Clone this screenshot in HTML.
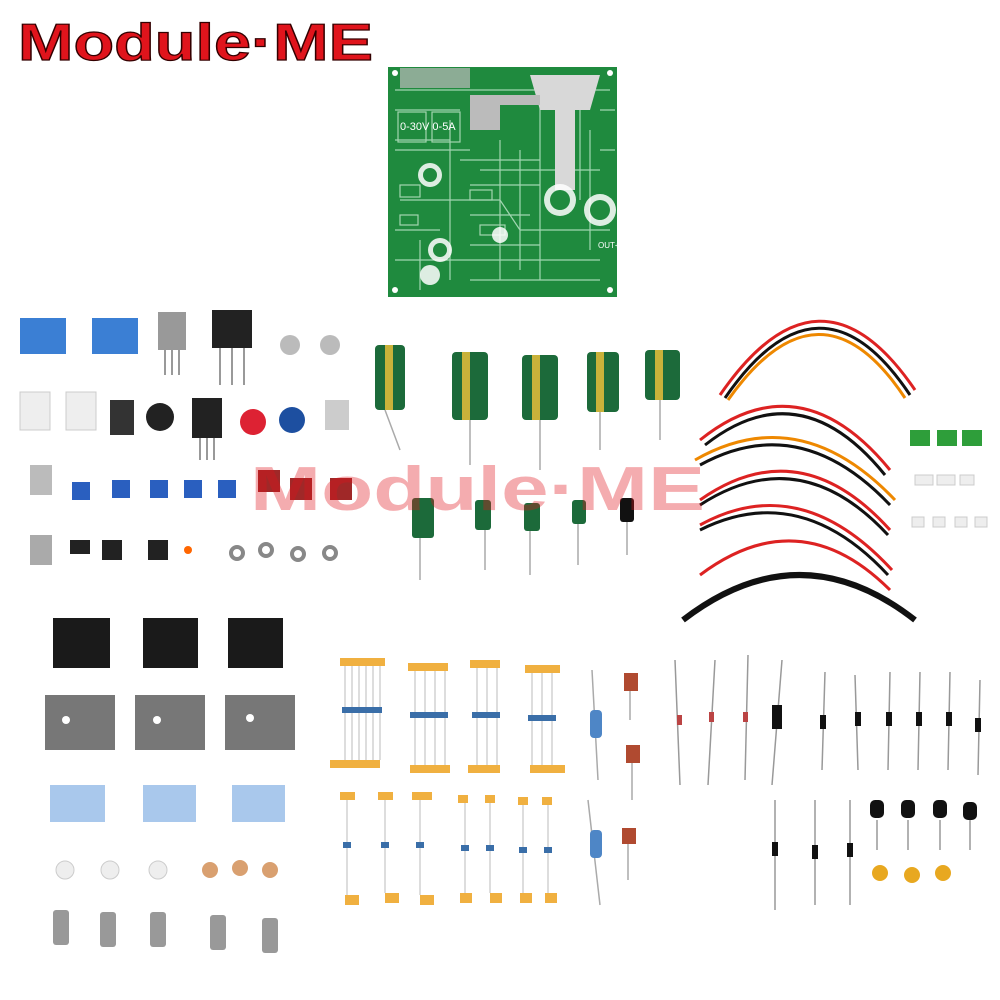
<!DOCTYPE html>
<html><head><meta charset="utf-8"><style>html,body{margin:0;padding:0;background:#fff}svg{display:block}</style></head>
<body>
<svg width="1000" height="1000" viewBox="0 0 1000 1000" xmlns="http://www.w3.org/2000/svg">
<rect width="1000" height="1000" fill="#fff"/>
<!-- logo -->
<text x="18" y="60" font-family="Liberation Sans, sans-serif" font-weight="bold" font-size="52" fill="#e0141c" stroke="#300" stroke-width="1.2" textLength="355" lengthAdjust="spacingAndGlyphs">Module·ME</text>
<!-- PCB -->
<rect x="388" y="67" width="229" height="230" fill="#1f8a3e"/>
<g stroke="#b9e3c5" stroke-width="1.2" fill="none" opacity="0.85">
<path d="M395 90 H610 M395 150 H470 M400 200 L500 200 L520 230 H610 M420 240 V290 M450 120 V280 M480 170 H600 M395 260 H600 M540 100 V280 M580 80 V200 M395 110 H460 M395 140 H450 M460 160 H540 M470 185 H540 M470 215 H530 M395 230 H440 M470 245 H540 M470 280 H600 M500 140 V280 M520 150 V270 M600 110 H615 M600 150 H615 M590 130 V250"/>
<rect x="398" y="112" width="28" height="30"/><rect x="432" y="112" width="28" height="30"/>
<rect x="400" y="185" width="20" height="12"/><rect x="470" y="190" width="22" height="10"/><rect x="480" y="225" width="25" height="10"/><rect x="400" y="215" width="18" height="10"/>
</g>
<path d="M530 75 L600 75 L590 110 L575 110 L575 190 L555 190 L555 110 L540 110 Z" fill="#d8d8d8"/>
<path d="M470 95 L540 95 L540 105 L500 105 L500 130 L470 130 Z" fill="#bbb"/>
<rect x="400" y="68" width="70" height="20" fill="#bbb" opacity="0.7"/>
<g fill="#fff" opacity="0.85">
<circle cx="430" cy="175" r="12"/><circle cx="560" cy="200" r="16"/><circle cx="600" cy="210" r="16"/><circle cx="440" cy="250" r="12"/><circle cx="430" cy="275" r="10"/><circle cx="500" cy="235" r="8"/>
</g>
<g fill="#1f8a3e"><circle cx="430" cy="175" r="7"/><circle cx="560" cy="200" r="10"/><circle cx="600" cy="210" r="10"/><circle cx="440" cy="250" r="7"/></g>
<g fill="#fff"><circle cx="395" cy="73" r="3"/><circle cx="610" cy="73" r="3"/><circle cx="395" cy="290" r="3"/><circle cx="610" cy="290" r="3"/></g>
<text x="400" y="130" font-family="Liberation Sans,sans-serif" font-size="11" fill="#fff">0-30V  0-5A</text>
<text x="598" y="248" font-family="Liberation Sans,sans-serif" font-size="8" fill="#fff">OUT+</text>
<!-- relays -->
<rect x="20" y="318" width="46" height="36" fill="#3b7fd4"/><rect x="92" y="318" width="46" height="36" fill="#3b7fd4"/>
<g fill="#222"><rect x="158" y="312" width="28" height="38" fill="#999"/><rect x="212" y="310" width="40" height="38"/><rect x="192" y="398" width="30" height="40"/></g>
<g stroke="#999" stroke-width="2"><path d="M165 350 V375 M172 350 V375 M179 350 V375 M220 348 V385 M232 348 V385 M244 348 V385 M200 438 V460 M207 438 V460 M214 438 V460"/></g>
<rect x="20" y="392" width="30" height="38" fill="#eee" stroke="#ccc"/><rect x="66" y="392" width="30" height="38" fill="#eee" stroke="#ccc"/>
<rect x="110" y="400" width="24" height="35" fill="#333"/><rect x="325" y="400" width="24" height="30" fill="#ccc"/>
<circle cx="160" cy="417" r="14" fill="#222"/><circle cx="253" cy="422" r="13" fill="#d23"/><circle cx="292" cy="420" r="13" fill="#1d4fa0"/>
<circle cx="290" cy="345" r="10" fill="#bbb"/><circle cx="330" cy="345" r="10" fill="#bbb"/>
<rect x="30" y="465" width="22" height="30" fill="#bbb"/>
<g fill="#2a5fbf"><rect x="72" y="482" width="18" height="18"/><rect x="112" y="480" width="18" height="18"/><rect x="150" y="480" width="18" height="18"/><rect x="184" y="480" width="18" height="18"/><rect x="218" y="480" width="18" height="18"/></g>
<g fill="#a02828"><rect x="258" y="470" width="22" height="22"/><rect x="290" y="478" width="22" height="22"/><rect x="330" y="478" width="22" height="22"/></g>
<rect x="30" y="535" width="22" height="30" fill="#aaa"/><rect x="70" y="540" width="20" height="14" fill="#222"/><rect x="102" y="540" width="20" height="20" fill="#222"/><rect x="148" y="540" width="20" height="20" fill="#222"/>
<circle cx="188" cy="550" r="4" fill="#f60"/>
<g fill="none" stroke="#888" stroke-width="4"><circle cx="237" cy="553" r="6"/><circle cx="266" cy="550" r="6"/><circle cx="298" cy="554" r="6"/><circle cx="330" cy="553" r="6"/></g>
<g fill="#1c6a3a"><rect x="375" y="345" width="30" height="65" rx="4"/><rect x="452" y="352" width="36" height="68" rx="4"/><rect x="522" y="355" width="36" height="65" rx="4"/><rect x="587" y="352" width="32" height="60" rx="4"/><rect x="645" y="350" width="35" height="50" rx="4"/>
<rect x="412" y="498" width="22" height="40" rx="3"/><rect x="475" y="500" width="16" height="30" rx="3"/><rect x="524" y="503" width="16" height="28" rx="3"/><rect x="572" y="500" width="14" height="24" rx="3"/><rect x="620" y="498" width="14" height="24" rx="3" fill="#111"/></g>
<g fill="#c9b23a"><rect x="385" y="345" width="8" height="65"/><rect x="462" y="352" width="8" height="68"/><rect x="532" y="355" width="8" height="65"/><rect x="596" y="352" width="8" height="60"/><rect x="655" y="350" width="8" height="50"/></g>
<g stroke="#aaa" stroke-width="1.5"><path d="M385 410 L400 450 M470 420 V465 M540 420 V470 M600 412 V450 M660 400 V440 M420 538 V580 M485 530 V570 M530 531 V575 M578 524 V565 M627 522 V555"/></g>
<g fill="none" stroke-width="3">
<path d="M720 395 Q820 250 915 390" stroke="#d22"/><path d="M725 398 Q820 260 910 395" stroke="#111"/><path d="M728 400 Q820 270 905 398" stroke="#e80"/>
<path d="M700 440 Q800 360 890 470" stroke="#d22"/><path d="M705 445 Q800 370 885 475" stroke="#111"/>
<path d="M695 460 Q800 400 895 500" stroke="#e80"/><path d="M700 465 Q800 410 890 505" stroke="#111"/>
<path d="M700 500 Q800 430 890 530" stroke="#d22"/><path d="M700 505 Q800 440 888 535" stroke="#111"/>
<path d="M700 525 Q800 470 892 570" stroke="#d22"/><path d="M700 530 Q800 480 888 575" stroke="#111"/>
<path d="M700 575 Q800 500 890 590" stroke="#d22"/>
<path d="M683 620 Q800 530 915 620" stroke="#111" stroke-width="6"/>
</g>
<g fill="#2e9e3a"><rect x="910" y="430" width="20" height="16"/><rect x="937" y="430" width="20" height="16"/><rect x="962" y="430" width="20" height="16"/></g>
<g fill="#eee" stroke="#ccc"><rect x="915" y="475" width="18" height="10"/><rect x="937" y="475" width="18" height="10"/><rect x="960" y="475" width="14" height="10"/><rect x="912" y="517" width="12" height="10"/><rect x="933" y="517" width="12" height="10"/><rect x="955" y="517" width="12" height="10"/><rect x="975" y="517" width="12" height="10"/></g>
<g fill="#1a1a1a"><rect x="53" y="618" width="57" height="50"/><rect x="143" y="618" width="55" height="50"/><rect x="228" y="618" width="55" height="50"/></g>
<g fill="#777"><rect x="45" y="695" width="70" height="55"/><rect x="135" y="695" width="70" height="55"/><rect x="225" y="695" width="70" height="55"/></g>
<g fill="#fff"><circle cx="66" cy="720" r="4"/><circle cx="157" cy="720" r="4"/><circle cx="250" cy="718" r="4"/></g>
<g fill="#a9c8ec"><rect x="50" y="785" width="55" height="37"/><rect x="143" y="785" width="53" height="37"/><rect x="232" y="785" width="53" height="37"/></g>
<g fill="#eee" stroke="#ccc"><circle cx="65" cy="870" r="9"/><circle cx="110" cy="870" r="9"/><circle cx="158" cy="870" r="9"/></g>
<g fill="#d9a070"><circle cx="210" cy="870" r="8"/><circle cx="240" cy="868" r="8"/><circle cx="270" cy="870" r="8"/></g>
<g fill="#999"><rect x="53" y="910" width="16" height="35" rx="3"/><rect x="100" y="912" width="16" height="35" rx="3"/><rect x="150" y="912" width="16" height="35" rx="3"/><rect x="210" y="915" width="16" height="35" rx="3"/><rect x="262" y="918" width="16" height="35" rx="3"/></g>
<g fill="#f0b040">
<rect x="340" y="658" width="45" height="8"/><rect x="330" y="760" width="50" height="8"/>
<rect x="408" y="663" width="40" height="8"/><rect x="410" y="765" width="40" height="8"/>
<rect x="470" y="660" width="30" height="8"/><rect x="468" y="765" width="32" height="8"/>
<rect x="525" y="665" width="35" height="8"/><rect x="530" y="765" width="35" height="8"/>
<rect x="340" y="792" width="15" height="8"/><rect x="378" y="792" width="15" height="8"/><rect x="412" y="792" width="20" height="8"/><rect x="458" y="795" width="10" height="8"/><rect x="485" y="795" width="10" height="8"/><rect x="518" y="797" width="10" height="8"/><rect x="542" y="797" width="10" height="8"/>
<rect x="345" y="895" width="14" height="10"/><rect x="385" y="893" width="14" height="10"/><rect x="420" y="895" width="14" height="10"/><rect x="460" y="893" width="12" height="10"/><rect x="490" y="893" width="12" height="10"/><rect x="520" y="893" width="12" height="10"/><rect x="545" y="893" width="12" height="10"/>
</g>
<g stroke="#bbb" stroke-width="1"><path d="M345 666 V760 M352 666 V760 M359 666 V760 M366 666 V760 M373 666 V760 M380 666 V760 M415 671 V765 M425 671 V765 M435 671 V765 M445 671 V765 M477 668 V765 M487 668 V765 M497 668 V765 M532 673 V765 M542 673 V765 M552 673 V765 M347 800 V895 M385 800 V893 M420 800 V895 M465 803 V893 M490 803 V893 M523 805 V893 M548 805 V893"/></g>
<g fill="#3a6ea8"><rect x="342" y="707" width="40" height="6"/><rect x="410" y="712" width="38" height="6"/><rect x="472" y="712" width="28" height="6"/><rect x="528" y="715" width="28" height="6"/><rect x="343" y="842" width="8" height="6"/><rect x="381" y="842" width="8" height="6"/><rect x="416" y="842" width="8" height="6"/><rect x="461" y="845" width="8" height="6"/><rect x="486" y="845" width="8" height="6"/><rect x="519" y="847" width="8" height="6"/><rect x="544" y="847" width="8" height="6"/></g>
<g stroke="#aaa" stroke-width="1.5"><path d="M592 670 L598 780 M588 800 L600 905 M630 690 V720 M632 760 V800 M628 840 V880"/></g>
<rect x="590" y="710" width="12" height="28" rx="4" fill="#4e86c6"/><rect x="590" y="830" width="12" height="28" rx="4" fill="#4e86c6"/>
<g fill="#b04a30"><rect x="624" y="673" width="14" height="18"/><rect x="626" y="745" width="14" height="18"/><rect x="622" y="828" width="14" height="16"/></g>
<g stroke="#999" stroke-width="1.5"><path d="M675 660 L680 785 M715 660 L708 785 M748 655 L745 780 M782 660 L772 785 M825 672 L822 770 M855 675 L858 770 M890 672 L888 770 M920 672 L918 770 M950 672 L948 770 M980 680 L978 775 M775 800 V910 M815 800 V905 M850 800 V905 M877 820 V850 M908 820 V850 M940 820 V850 M970 820 V850"/></g>
<g fill="#b44"><rect x="677" y="715" width="5" height="10"/><rect x="709" y="712" width="5" height="10"/><rect x="743" y="712" width="5" height="10"/></g>
<g fill="#111"><rect x="772" y="705" width="10" height="24"/><rect x="820" y="715" width="6" height="14"/><rect x="855" y="712" width="6" height="14"/><rect x="886" y="712" width="6" height="14"/><rect x="916" y="712" width="6" height="14"/><rect x="946" y="712" width="6" height="14"/><rect x="975" y="718" width="6" height="14"/><rect x="772" y="842" width="6" height="14"/><rect x="812" y="845" width="6" height="14"/><rect x="847" y="843" width="6" height="14"/>
<rect x="870" y="800" width="14" height="18" rx="5"/><rect x="901" y="800" width="14" height="18" rx="5"/><rect x="933" y="800" width="14" height="18" rx="5"/><rect x="963" y="802" width="14" height="18" rx="5"/></g>
<g fill="#e8a820"><circle cx="880" cy="873" r="8"/><circle cx="912" cy="875" r="8"/><circle cx="943" cy="873" r="8"/></g>
<text x="250" y="510" font-family="Liberation Sans, sans-serif" font-weight="bold" font-size="62" fill="#e0141c" opacity="0.35" textLength="455" lengthAdjust="spacingAndGlyphs">Module·ME</text>
</svg>
</body></html>
